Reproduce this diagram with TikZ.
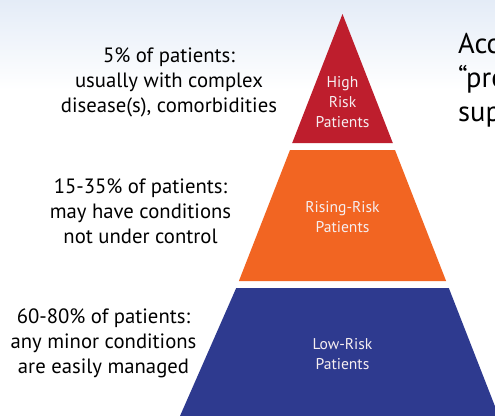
\documentclass[tikz,border=0pt]{standalone}
\usepackage{fontspec}
\setmainfont{PT Sans}
\definecolor{tierred}{HTML}{BE1E2D}
\definecolor{tierorange}{HTML}{F26522}
\definecolor{tierblue}{HTML}{2E3A8F}
\definecolor{skyblue}{HTML}{E4ECF7}
\definecolor{labelwhite}{HTML}{F6EEF0}
\begin{document}
\begin{tikzpicture}[x=1pt,y=-1pt,
  sidetext/.style={anchor=base,align=center,inner sep=0pt,font=\fontsize{20.7}{25}\selectfont,text=black},
  tiertext/.style={anchor=base,align=center,inner sep=0pt,font=\fontsize{15.6}{20}\selectfont,text=labelwhite},
  bigtext/.style={anchor=base west,align=left,inner sep=0pt,font=\fontsize{28.5}{34}\selectfont,text=black}]
\useasboundingbox (0,0) rectangle (495,415);
\clip (0,0) rectangle (495,415);
\fill[white] (0,0) rectangle (495,415);
\shade[top color=skyblue,bottom color=white] (0,0) rectangle (495,90);
% pyramid tiers (apex 342.5,14; half-width slope 0.39)
\fill[tierred] (342.5,14) -- (392.8,143) -- (292.2,143) -- cycle;
\fill[tierorange] (290.0,150) -- (395.0,150) -- (446.1,281) -- (238.9,281) -- cycle;
\fill[tierblue] (236.2,288) -- (448.8,288) -- (498,414) -- (498,416) -- (180,416) -- cycle;
% tier labels (anchor at baseline of last line)
\node[tiertext] (high) at (342.5,127) {High\\Risk\\Patients};
\node[tiertext] (rising) at (342.5,232) {Rising-Risk\\Patients};
\node[tiertext] (low) at (342.5,369) {Low-Risk\\Patients};
% side descriptions
\node[sidetext] (d1) at (169,112) {5\% of patients:\\usually with complex\\disease(s), comorbidities};
\node[sidetext] (d2) at (140.5,243) {15-35\% of patients:\\may have conditions\\not under control};
\node[sidetext] (d3) at (103.5,373) {60-80\% of patients:\\any minor conditions\\are easily managed};
% clipped text at right
\node[bigtext] (acc) at (458,121) {Acc\\“pre\\sup};
\end{tikzpicture}
\end{document}
